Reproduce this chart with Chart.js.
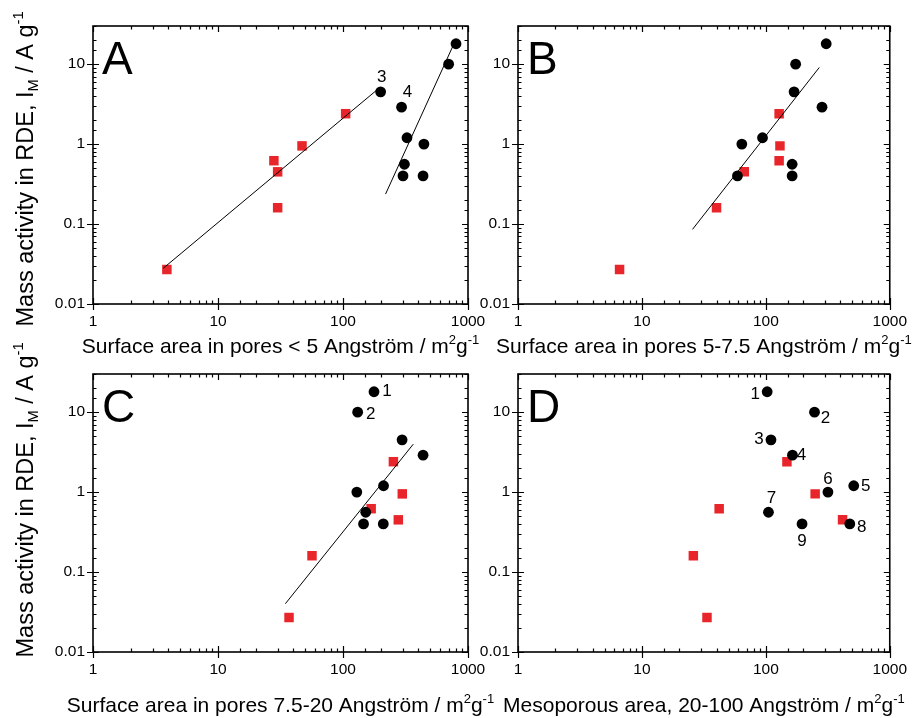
<!DOCTYPE html>
<html><head><meta charset="utf-8">
<script src="https://cdn.jsdelivr.net/npm/chart.js@4.4.0/dist/chart.umd.min.js"></script>
<style>
html,body{margin:0;padding:0;background:#fff;}
#wrap{position:relative;width:915px;height:718px;overflow:hidden;background:#fff;}
canvas{position:absolute;left:0;top:0;}
</style></head><body>
<div id="wrap">
<canvas id="cA" width="915" height="718"></canvas>
<canvas id="cB" width="915" height="718"></canvas>
<canvas id="cC" width="915" height="718"></canvas>
<canvas id="cD" width="915" height="718"></canvas>
</div>
<script>
// ---------------- data ----------------
// mass activity (y) for the 9 black samples (numbered 1..9) and 6 red samples
const yBlack = [18, 10, 4.5, 2.9, 1.2, 1.0, 0.56, 0.4, 0.4];
const yRed   = [2.4, 0.95, 0.62, 0.45, 0.16, 0.027];

// surface areas (x) per panel
const xBlackA = [802, 700, 200, 294, 325, 444, 310, 437, 302];
const xRedA   = [105, 47, 28, 30, 30, 3.9];
const xBlackB = [307, 174, 169, 284, 94, 64, 163, 163, 59];
const xRedB   = [128, 130, 128, 67, 40, 6.6];
const xBlackC = [177, 131, 297, 437, 211, 129, 152, 210, 146];
const xRedC   = [253, 298, 168, 277, 56.5, 37];
const xBlackD = [102.5, 247, 110, 164, 512, 317, 105, 476, 196];
const xRedD   = [148, 250, 42, 416, 26, 33.5];

// fitted lines (end points)
const fitA1x = [3.65, 186],  fitA1y = [0.028, 4.73];
const fitA2x = [219, 763],   fitA2y = [0.237, 17.3];
const fitBx  = [25.6, 270],  fitBy  = [0.0858, 9.09];
const fitCx  = [34.6, 365],  fitCy  = [0.0402, 3.98];

// axis ticks
const xMin = 1, xMax = 1000, yMin = 0.01, yMax = 30;
const xTickLabels = ['1', '10', '100', '1000'];
const yTickLabels = ['0.01', '0.1', '1', '10'];

// text
const yTitleParts = [{t:'Mass activity in RDE, I'}, {t:'M', sub:true}, {t:' / A g'}, {t:'-1', sup:true}];
const xTitleA = 'Surface area in pores < 5 Angström / m';
const xTitleB = 'Surface area in pores 5-7.5 Angström / m';
const xTitleC = 'Surface area in pores 7.5-20 Angström / m';
const xTitleD = 'Mesoporous area, 20-100 Angström / m';

// ---------------- styles ----------------
const FONT = "'Liberation Sans', Arial, Helvetica, sans-serif";
const RED = '#e8252a';

function isPow10(v){ const l = Math.log10(v); return Math.abs(l - Math.round(l)) < 1e-6; }
function fmt(v){ return String(Number(v.toPrecision(3))); }

function richWidth(ctx, parts, size){
  let w = 0;
  for (const p of parts){
    const s = (p.sup || p.sub) ? size*0.62 : size;
    ctx.font = s + 'px ' + FONT;
    w += ctx.measureText(p.t).width;
  }
  return w;
}
function drawRich(ctx, parts, x, y, size){
  const w = richWidth(ctx, parts, size);
  let cx = x - w/2;
  ctx.textAlign = 'left';
  ctx.textBaseline = 'alphabetic';
  for (const p of parts){
    const s = (p.sup || p.sub) ? size*0.62 : size;
    ctx.font = s + 'px ' + FONT;
    let dy = 0;
    if (p.sup) dy = -size*0.43;
    if (p.sub) dy = size*0.22;
    ctx.fillText(p.t, cx, y + dy);
    cx += ctx.measureText(p.t).width;
  }
}

const decor = {
  id: 'decor',
  afterDatasetsDraw(chart, args, o){
    const ctx = chart.ctx, a = chart.chartArea;
    const xs = chart.scales.x, ys = chart.scales.y;
    ctx.save();
    ctx.strokeStyle = '#000';
    ctx.fillStyle = '#000';
    // frame
    ctx.lineWidth = 1.6;
    ctx.strokeRect(a.left, a.top, a.right - a.left, a.bottom - a.top);
    // ticks
    ctx.lineWidth = 1.2;
    ctx.beginPath();
    for (const t of xs.ticks){
      const px = Math.round(xs.getPixelForValue(t.value)) + 0.5;
      const maj = isPow10(t.value);
      const inL = maj ? 6 : 3.5;
      ctx.moveTo(px, a.bottom); ctx.lineTo(px, a.bottom - inL);
      ctx.moveTo(px, a.top); ctx.lineTo(px, a.top + inL);
      if (maj){ ctx.moveTo(px, a.bottom); ctx.lineTo(px, a.bottom + 6); }
    }
    for (const t of ys.ticks){
      const py = Math.round(ys.getPixelForValue(t.value)) + 0.5;
      const maj = isPow10(t.value);
      const inL = maj ? 6 : 3.5;
      ctx.moveTo(a.left, py); ctx.lineTo(a.left + inL, py);
      ctx.moveTo(a.right, py); ctx.lineTo(a.right - inL, py);
      if (maj){ ctx.moveTo(a.left, py); ctx.lineTo(a.left - 6, py); }
    }
    ctx.stroke();
    // panel letter
    ctx.font = '46px ' + FONT;
    ctx.textAlign = 'left'; ctx.textBaseline = 'alphabetic';
    ctx.fillText(o.letter, a.left + 9, a.top + 48);
    // point number labels
    ctx.font = '17px ' + FONT;
    ctx.textAlign = 'center'; ctx.textBaseline = 'middle';
    for (const l of o.labels){
      const px = xs.getPixelForValue(o.xb[l.i]);
      const py = ys.getPixelForValue(yBlack[l.i]);
      ctx.fillText(l.t, px + l.dx, py + l.dy);
    }
    // x title
    const xParts = [{t:o.xTitle}, {t:'2', sup:true}, {t:'g'}, {t:'-1', sup:true}];
    drawRich(ctx, xParts, (a.left + a.right)/2, a.bottom + o.xTitleOff, 21);
    // y title
    if (o.yTitle){
      ctx.save();
      ctx.translate(33, (a.top + a.bottom)/2 + o.yTitleShift);
      ctx.rotate(-Math.PI/2);
      drawRich(ctx, yTitleParts, 0, 0, 23.5);
      ctx.restore();
    }
    ctx.restore();
  }
};

function pts(xa, ya){ return xa.map((x, i) => ({x: x, y: ya[i]})); }

function makePanel(id, box, xb, xr, fits, letter, labels, xTitle, xTitleOff, yTitle, yTitleShift){
  const datasets = [];
  for (const f of fits){
    datasets.push({data: pts(f[0], f[1]), showLine: true, borderColor: '#000', borderWidth: 1,
      pointRadius: 0, fill: false, order: 0});
  }
  datasets.push({data: pts(xb, yBlack), pointStyle: 'circle', pointRadius: 5.4,
    backgroundColor: '#000', borderWidth: 0, order: 1});
  datasets.push({data: pts(xr, yRed), pointStyle: 'rect', pointRadius: 6.7,
    backgroundColor: RED, borderWidth: 0, order: 2});
  const tickFont = {family: FONT, size: 15.5};
  new Chart(document.getElementById(id), {
    type: 'scatter',
    data: {datasets},
    plugins: [decor],
    options: {
      responsive: false, animation: false, devicePixelRatio: 1,
      layout: {padding: {left: box.L - 60, right: 915 - box.R, top: box.T, bottom: 718 - box.B - 40}},
      plugins: {
        legend: {display: false}, tooltip: {enabled: false},
        decor: {letter, labels, xb, xTitle, xTitleOff, yTitle, yTitleShift: yTitleShift || 0}
      },
      scales: {
        x: {type: 'logarithmic', min: xMin, max: xMax, position: 'bottom',
          grid: {display: false, drawTicks: false}, border: {display: false},
          ticks: {autoSkip: false, maxRotation: 0, padding: 8, color: '#000', font: tickFont,
            callback: (v) => { if (!isPow10(v)) return ''; const s = fmt(v); return xTickLabels.includes(s) ? s : ''; }},
          afterFit: (s) => { s.height = 40; }},
        y: {type: 'logarithmic', min: yMin, max: yMax, position: 'left',
          grid: {display: false, drawTicks: false}, border: {display: false},
          ticks: {autoSkip: false, padding: 8, color: '#000', font: tickFont,
            callback: (v) => { if (!isPow10(v)) return ''; const s = fmt(v); return yTickLabels.includes(s) ? s : ''; }},
          afterFit: (s) => { s.width = 60; }}
      }
    }
  });
}

makePanel('cA', {L: 93, R: 468, T: 26, B: 304}, xBlackA, xRedA,
  [[fitA1x, fitA1y], [fitA2x, fitA2y]], 'A',
  [{i: 2, t: '3', dx: 1, dy: -15}, {i: 3, t: '4', dx: 6, dy: -15}],
  xTitleA, 49, true, 4);
makePanel('cB', {L: 518, R: 893, T: 26, B: 304}, xBlackB, xRedB,
  [[fitBx, fitBy]], 'B', [], xTitleB, 49, false);
makePanel('cC', {L: 93, R: 468, T: 374, B: 652}, xBlackC, xRedC,
  [[fitCx, fitCy]], 'C',
  [{i: 0, t: '1', dx: 13, dy: 0}, {i: 1, t: '2', dx: 13, dy: 2}],
  xTitleC, 60, true, -13);
makePanel('cD', {L: 518, R: 893, T: 374, B: 652}, xBlackD, xRedD,
  [], 'D',
  [{i: 0, t: '1', dx: -12, dy: 3}, {i: 1, t: '2', dx: 11, dy: 6}, {i: 2, t: '3', dx: -12, dy: -1},
   {i: 3, t: '4', dx: 9, dy: 0}, {i: 4, t: '5', dx: 12, dy: 1}, {i: 5, t: '6', dx: 0, dy: -13},
   {i: 6, t: '7', dx: 3, dy: -14}, {i: 7, t: '8', dx: 12, dy: 3}, {i: 8, t: '9', dx: 0, dy: 17}],
  xTitleD, 60, false);
</script>
</body></html>
